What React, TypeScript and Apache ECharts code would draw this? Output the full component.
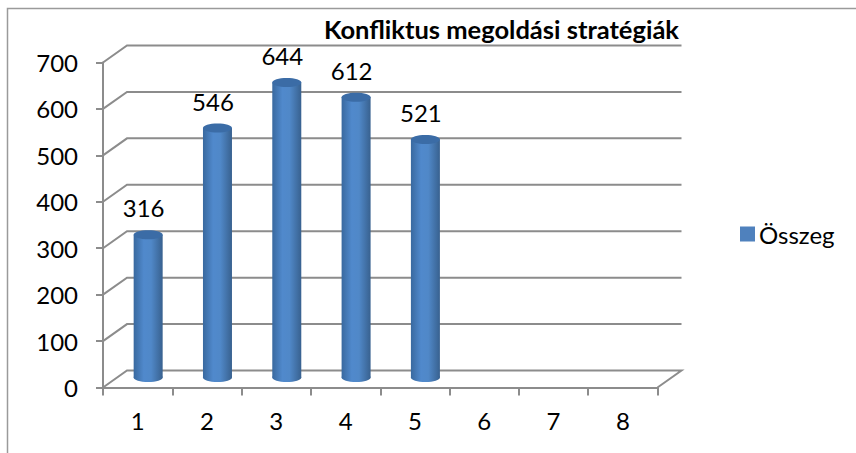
import React, { useEffect, useRef } from "react";
import * as echarts from "echarts";

const categories = ["1", "2", "3", "4", "5", "6", "7", "8"];
const seriesName = "Összeg";
const seriesValues = [316, 546, 644, 612, 521];
const gridValues = [0, 100, 200, 300, 400, 500, 600, 700];
const titleText = "Konfliktus megoldási stratégiák";

const FONT = "Lato, Carlito, sans-serif";
const GRID_COLOR = "#8c8c8c";
const DEPTH_X = 24;
const DEPTH_Y = 17;

export default function App() {
  const ref = useRef<HTMLDivElement>(null);
  useEffect(() => {
    document.body.style.margin = "0";
    const chart = echarts.init(ref.current!, null, { renderer: "svg" });
    chart.setOption({
      animation: false,
      backgroundColor: "#ffffff",
      textStyle: { fontFamily: FONT },
      title: {
        text: titleText,
        right: 856 - 679,
        top: 16,
        padding: 0,
        textStyle: { fontFamily: FONT, fontWeight: "bold", fontSize: 25.5, color: "#000" },
      },
      legend: {
        data: [seriesName],
        left: 740,
        top: 222,
        padding: 0,
        icon: "rect",
        itemWidth: 15,
        itemHeight: 15,
        itemGap: 0,
        textStyle: { fontFamily: FONT, fontSize: 24, color: "#000", padding: [0, 0, 0, -1] },
      },
      grid: { left: 103, right: 856 - 657.5, top: 62.5, bottom: 453 - 387.5 },
      xAxis: {
        type: "category",
        data: categories,
        axisLine: { lineStyle: { color: GRID_COLOR, width: 2 } },
        axisTick: { show: true, length: 8, alignWithLabel: false, lineStyle: { color: GRID_COLOR, width: 2 } },
        axisLabel: { fontFamily: FONT, fontSize: 24, color: "#000", margin: 21 },
        splitLine: { show: false },
      },
      yAxis: {
        type: "value",
        min: 0,
        max: 700,
        interval: 100,
        axisLine: { show: true, lineStyle: { color: GRID_COLOR, width: 2 } },
        axisTick: { show: true, length: 7, lineStyle: { color: GRID_COLOR, width: 2 } },
        axisLabel: { fontFamily: FONT, fontSize: 24, color: "#000", margin: 25 },
        splitLine: { show: false },
      },
      graphic: [
        {
          type: "polyline",
          shape: { points: [[7.5, 453], [7.5, 8.5], [856, 8.5]] },
          style: { stroke: "#9a9a9a", lineWidth: 1.5, fill: "none" },
          silent: true,
        },
      ],
      series: [
        {
          type: "custom",
          name: "rács",
          silent: true,
          z: 1,
          data: gridValues.map((v) => [0, v]),
          renderItem: (params: any, api: any) => {
            const cs = params.coordSys;
            const y = api.coord([0, api.value(1)])[1];
            const pts: number[][] = [
              [cs.x, y],
              [cs.x + DEPTH_X, y - DEPTH_Y],
              [cs.x + cs.width + DEPTH_X, y - DEPTH_Y],
            ];
            if (api.value(1) === 0) pts.push([cs.x + cs.width, y]);
            return {
              type: "polyline",
              shape: { points: pts },
              style: { stroke: GRID_COLOR, lineWidth: 2, fill: "none" },
            };
          },
        },
        {
          type: "custom",
          name: seriesName,
          z: 3,
          itemStyle: { color: "#4f81bd" },
          data: seriesValues.map((v, i) => [i, v]),
          renderItem: (_params: any, api: any) => {
            const top = api.coord([api.value(0), api.value(1)]);
            const base = api.coord([api.value(0), 0]);
            const cx = top[0] + 10.5;
            const topY = top[1] - 6;
            const baseY = base[1] - 10;
            const rx = 14.5;
            const ry = 4.5;
            const body = new echarts.graphic.LinearGradient(0, 0, 1, 0, [
              { offset: 0, color: "#39699f" },
              { offset: 0.35, color: "#5089cc" },
              { offset: 0.6, color: "#5088c8" },
              { offset: 1, color: "#38618f" },
            ]);
            return {
              type: "group",
              children: [
                { type: "ellipse", shape: { cx, cy: baseY, rx, ry }, style: { fill: body } },
                { type: "rect", shape: { x: cx - rx, y: topY, width: rx * 2, height: baseY - topY }, style: { fill: body } },
                { type: "ellipse", shape: { cx, cy: topY, rx, ry }, style: { fill: "#3b6ca6" } },
                {
                  type: "text",
                  x: cx - 4.5,
                  y: topY - 27,
                  style: {
                    text: String(api.value(1)),
                    fontFamily: FONT,
                    fontSize: 24,
                    fill: "#000",
                    align: "center",
                    verticalAlign: "middle",
                  },
                },
              ],
            };
          },
        },
      ],
    });
    return () => chart.dispose();
  }, []);
  return <div ref={ref} style={{ width: 856, height: 453 }} />;
}
